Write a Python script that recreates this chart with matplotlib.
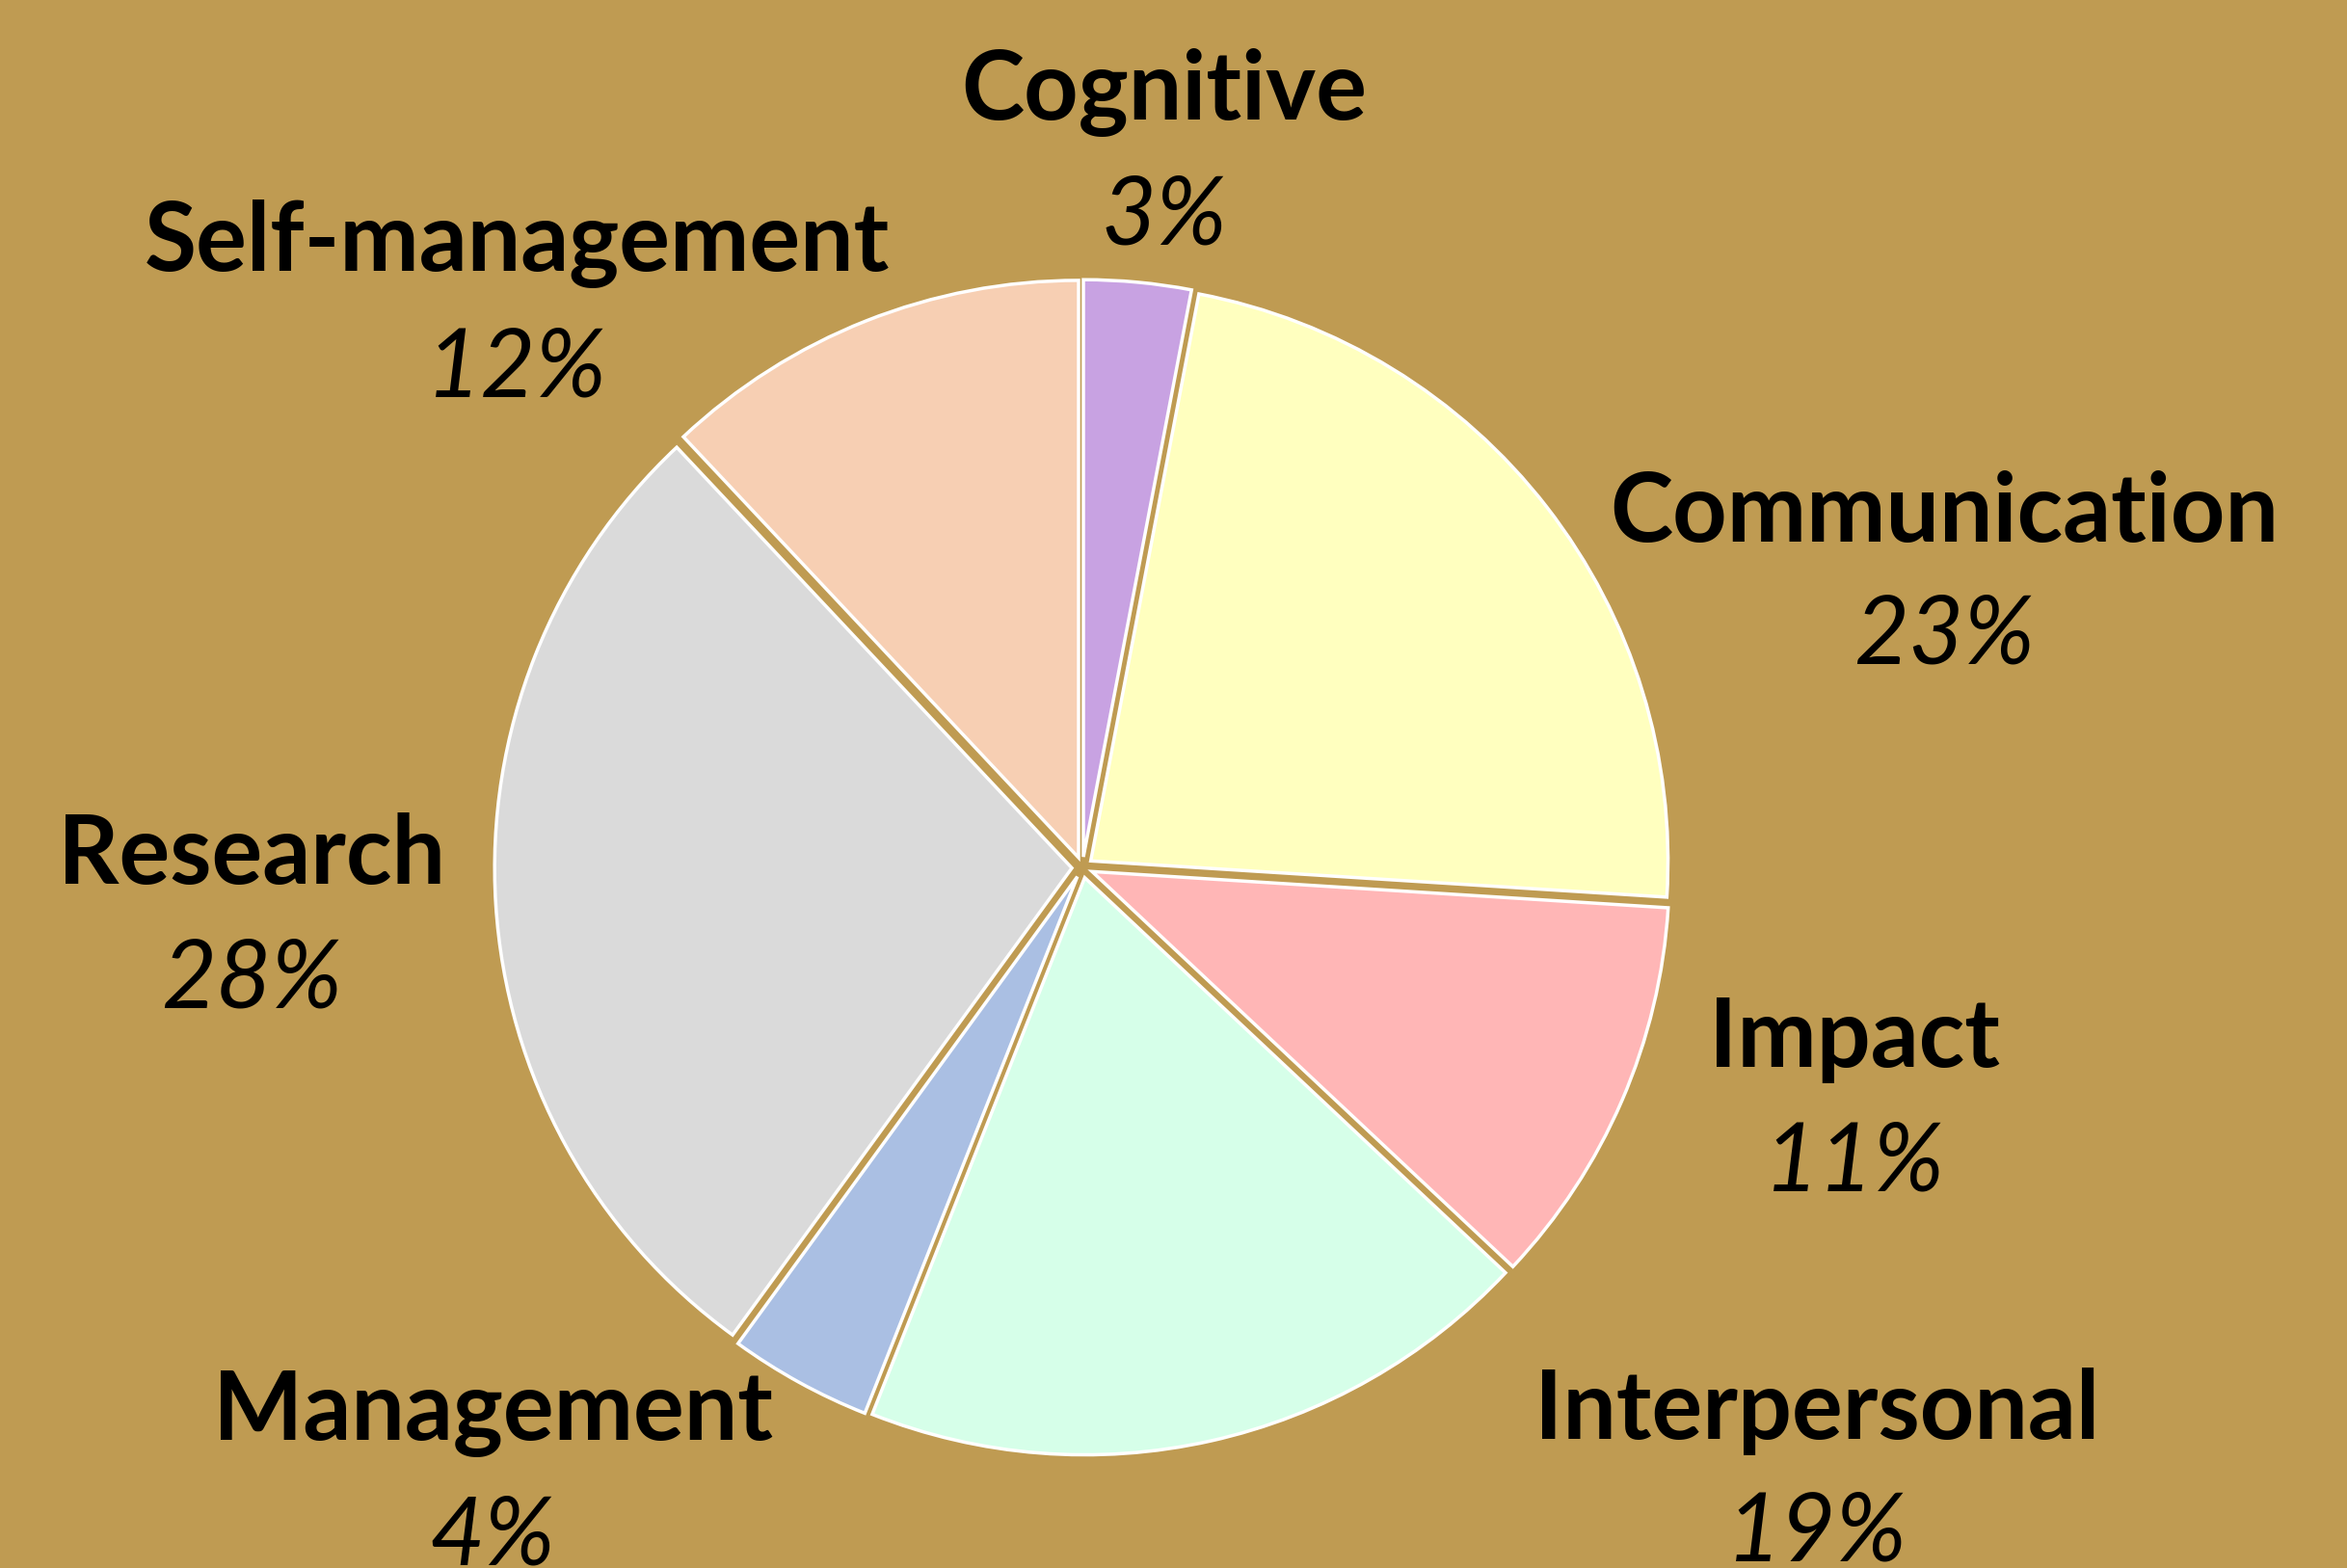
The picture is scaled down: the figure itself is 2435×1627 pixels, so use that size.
import matplotlib
matplotlib.use("Agg")
import matplotlib.pyplot as plt

categories = ["Cognitive", "Communication", "Impact", "Interpersonal",
              "Management", "Research", "Self-management"]
values = [3, 23, 11, 19, 4, 28, 12]
pct_labels = ["3%", "23%", "11%", "19%", "4%", "28%", "12%"]
colors = ["#C8A2E2", "#FFFFBF", "#FFB6B6", "#D6FFE9", "#AABFE3", "#DADADA", "#F7CFB3"]

BG = "#BF9B52"
W, H = 2435, 1627
DPI = 100
fig = plt.figure(figsize=(W / DPI, H / DPI), dpi=DPI, facecolor=BG)
ax = fig.add_axes([0, 0, 1, 1])
ax.set_facecolor(BG)

cx, cy, R = 1123, 900, 608  # pixel center and scale
ax.pie(values, colors=colors, startangle=90, counterclock=False,
       explode=[0.018] * len(values), radius=0.985, center=(0, 0),
       wedgeprops=dict(edgecolor="white", linewidth=2.5))
ax.set_xlim(-cx / R, (W - cx) / R)
ax.set_ylim(-(H - cy) / R, cy / R)
ax.set_aspect("auto")
ax.axis("off")

# label positions in pixels (x, name_y, pct_y)
label_px = {
    "Cognitive": (1208, 96, 225),
    "Communication": (2017, 533, 660),
    "Impact": (1924, 1079, 1207),
    "Interpersonal": (1885, 1464, 1592),
    "Management": (511, 1467, 1596),
    "Research": (261, 888, 1017),
    "Self-management": (536, 253, 384),
}

def d(px, py):
    return (px - cx) / R, (cy - py) / R

for cat, pct in zip(categories, pct_labels):
    x, y1, y2 = label_px[cat]
    ax.text(*d(x, y1), cat, ha="center", va="center", fontsize=71,
            fontweight="bold", family="Lato", color="black")
    ax.text(*d(x, y2), pct, ha="center", va="center", fontsize=71,
            fontstyle="italic", family="Lato", color="black")

fig.savefig("out.png", dpi=DPI, facecolor=BG)
